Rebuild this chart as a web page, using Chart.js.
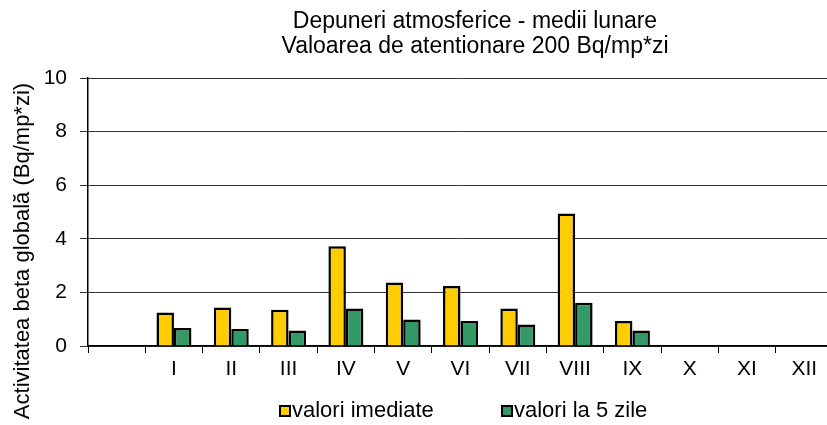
<!DOCTYPE html>
<html>
<head>
<meta charset="utf-8">
<script src="https://cdn.jsdelivr.net/npm/chart.js@4"></script>
<style>
  html, body { margin:0; padding:0; background:#fff; overflow:hidden; }
  #wrap { width:840px; height:425px; }
</style>
</head>
<body>
<div id="wrap"><canvas id="c"></canvas></div>
<script>
// months, first slot left empty like in the original sheet
const months = ['', 'I','II','III','IV','V','VI','VII','VIII','IX','X','XI','XII'];
const immediate = [null, 1.25, 1.44, 1.35, 3.72, 2.37, 2.24, 1.40, 4.94, 0.93, null, null, null];
const after5days = [null, 0.67, 0.63, 0.58, 1.40, 0.99, 0.93, 0.80, 1.61, 0.58, null, null, null];
const seriesNames = ['valori imediate', 'valori la 5 zile'];
const seriesColors = ['#FFCC00', '#339966'];
const titleLines = ['Depuneri atmosferice - medii lunare', 'Valoarea de atentionare 200 Bq/mp*zi'];
const yTitle = 'Activitatea beta globală (Bq/mp*zi)';

const FONT = 'Liberation Sans, Arial, sans-serif';

// title, y title and legend are drawn by hand: in the original they are
// not centred on the plot, and the legend items sit far apart
const textPlugin = {
  id: 'texts',
  afterDraw(chart){
    const ctx = chart.ctx;
    ctx.save();
    ctx.fillStyle = '#000';
    ctx.textBaseline = 'middle';

    // title
    ctx.font = '23px ' + FONT;
    ctx.textAlign = 'center';
    titleLines.forEach((t, i) => ctx.fillText(t, 475, 22 + i*25));

    // y axis title
    ctx.save();
    ctx.translate(23, 251);
    ctx.rotate(-Math.PI/2);
    ctx.font = '22px ' + FONT;
    ctx.fillText(yTitle, 0, 0);
    ctx.restore();

    // legend
    ctx.font = '22px ' + FONT;
    ctx.textAlign = 'left';
    const boxX = [280, 502];
    chart.data.datasets.forEach((ds, i) => {
      ctx.fillStyle = ds.backgroundColor;
      ctx.fillRect(boxX[i], 406, 10, 10);
      ctx.strokeStyle = '#000';
      ctx.lineWidth = 2;
      ctx.strokeRect(boxX[i], 406, 10, 10);
      ctx.fillStyle = '#000';
      ctx.fillText(ds.label, boxX[i] + 12, 411);
    });
    ctx.restore();
  }
};

new Chart(document.getElementById('c'), {
  type: 'bar',
  data: {
    labels: months,
    datasets: [
      { label: seriesNames[0], data: immediate, backgroundColor: seriesColors[0], borderColor: '#000', borderWidth: 2.5 },
      { label: seriesNames[1], data: after5days, backgroundColor: seriesColors[1], borderColor: '#000', borderWidth: 2.5 }
    ]
  },
  options: {
    responsive: true,
    maintainAspectRatio: false,
    animation: false,
    layout: { padding: { left: 0, right: 7, top: 78, bottom: 39 } },
    datasets: { bar: { categoryPercentage: 0.61, barPercentage: 1.0 } },
    plugins: {
      title: { display: false },
      legend: { display: false },
      tooltip: { enabled: false }
    },
    scales: {
      x: {
        afterFit(s){ s.height = 40; },
        grid: { drawOnChartArea: false, color: '#000', tickLength: 7, offset: true },
        border: { color: '#000', width: 1.5 },
        ticks: { color: '#000', font: { family: FONT, size: 21 }, padding: 4, maxRotation: 0, autoSkip: false }
      },
      y: {
        min: 0, max: 10,
        afterFit(s){ s.width = 88; },
        ticks: { stepSize: 2, color: '#000', font: { family: FONT, size: 21 }, padding: 13 },
        grid: { color: '#333', tickLength: 8 },
        border: { color: '#000', width: 1.5 }
      }
    }
  },
  plugins: [textPlugin]
});
</script>
</body>
</html>
